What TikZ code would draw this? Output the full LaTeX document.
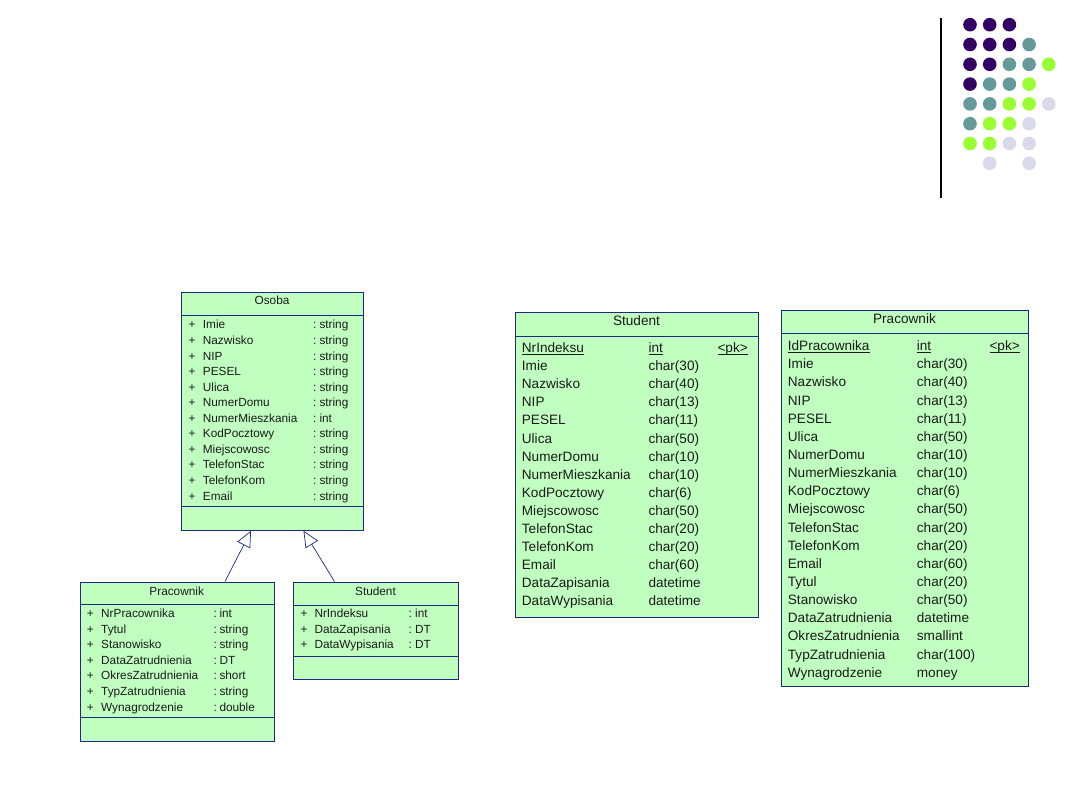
\documentclass[tikz,border=0pt]{standalone}
\usepackage{fontspec}
\setmainfont{Liberation Sans}
\usetikzlibrary{arrows.meta}
\definecolor{boxfill}{HTML}{C0FFC0}
\definecolor{boxline}{HTML}{1A2A80}
\definecolor{txt}{HTML}{1A1A1A}
\definecolor{dP}{HTML}{330066}
\definecolor{dT}{HTML}{669999}
\definecolor{dL}{HTML}{99FF33}
\definecolor{dV}{HTML}{D9D9EC}
\newcommand\myul[1]{{\setbox0\hbox{#1}\rlap{\copy0}\rule[-1.9pt]{\wd0}{0.8pt}}}
\begin{document}
\begin{tikzpicture}[x=1pt,y=-1pt,
  box/.style={draw=boxline, fill=boxfill, line width=0.9pt, rectangle, anchor=north west, inner sep=0pt},
  sep/.style={draw=boxline, line width=0.9pt},
  umltxt/.style={inner sep=0pt, anchor=base west, text=txt, font=\fontsize{11.8}{12}\selectfont},
  umlhead/.style={inner sep=0pt, anchor=base, text=txt, font=\fontsize{11.8}{12}\selectfont},
  tbltxt/.style={inner sep=0pt, anchor=base west, text=txt, font=\fontsize{13.6}{14}\selectfont},
  tblhead/.style={inner sep=0pt, anchor=base, text=txt, font=\fontsize{13.6}{14}\selectfont},
  inh/.style={draw=boxline, line width=0.7pt, -{Triangle[open, length=16pt, width=14.5pt]}},
  dot/.style={circle, inner sep=0pt, minimum size=13.6pt, draw=none}
]
\useasboundingbox (0,0) rectangle (1080,810);
\fill[white] (0,0) rectangle (1080,810);

% ---- decoration: vertical line and dots
\coordinate (vlt) at (941,18);
\coordinate (vlb) at (941,198);
\draw[black, line width=1.4pt] (vlt) -- (vlb);
\foreach \c/\r/\k [count=\i] in {0/0/dP,1/0/dP,2/0/dP,
  0/1/dP,1/1/dP,2/1/dP,3/1/dT,
  0/2/dP,1/2/dP,2/2/dT,3/2/dT,4/2/dL,
  0/3/dP,1/3/dT,2/3/dT,3/3/dL,
  0/4/dT,1/4/dT,2/4/dL,3/4/dL,4/4/dV,
  0/5/dT,1/5/dL,2/5/dL,3/5/dV,
  0/6/dL,1/6/dL,2/6/dV,3/6/dV,
  1/7/dV,3/7/dV}
  \node[dot, fill=\k] (dot\i) at ({970+\c*19.7},{24.7+\r*19.8}) {};

% ---- UML class Osoba
\node[box, minimum width=182pt, minimum height=238pt] (osoba) at (181,292) {};
\draw[sep] ([yshift=-23pt]osoba.north west) -- ([yshift=-23pt]osoba.north east);
\draw[sep] ([yshift=-214pt]osoba.north west) -- ([yshift=-214pt]osoba.north east);
\node[umlhead] (osh) at (272,305) {Osoba};
\foreach \n/\t [count=\i from 0] in {Imie/string,Nazwisko/string,NIP/string,PESEL/string,Ulica/string,NumerDomu/string,NumerMieszkania/int,KodPocztowy/string,Miejscowosc/string,TelefonStac/string,TelefonKom/string,Email/string}{
  \node[umltxt] (osp\i) at (188.3,{329+\i*15.55}) {+};
  \node[umltxt] (osn\i) at (202.7,{329+\i*15.55}) {\n};
  \node[umltxt] (osc\i) at (313,{329+\i*15.55}) {:};
  \node[umltxt] (ost\i) at (319.3,{329+\i*15.55}) {\t};
}

% ---- UML class Pracownik
\node[box, minimum width=194.5pt, minimum height=159.5pt] (uprac) at (79.5,581.5) {};
\draw[sep] ([yshift=-23pt]uprac.north west) -- ([yshift=-23pt]uprac.north east);
\draw[sep] ([yshift=-136.2pt]uprac.north west) -- ([yshift=-136.2pt]uprac.north east);
\node[umlhead] (uph) at (176.7,595) {Pracownik};
\foreach \n/\t [count=\i from 0] in {NrPracownika/int,Tytul/string,Stanowisko/string,DataZatrudnienia/DT,OkresZatrudnienia/short,TypZatrudnienia/string,Wynagrodzenie/double}{
  \node[umltxt] (upp\i) at (86.7,{617.7+\i*15.55}) {+};
  \node[umltxt] (upn\i) at (101,{617.7+\i*15.55}) {\n};
  \node[umltxt] (upc\i) at (213.3,{617.7+\i*15.55}) {:};
  \node[umltxt] (upt\i) at (219.3,{617.7+\i*15.55}) {\t};
}

% ---- UML class Student
\node[box, minimum width=164.4pt, minimum height=97.5pt] (ustud) at (293.3,581.5) {};
\draw[sep] ([yshift=-23.5pt]ustud.north west) -- ([yshift=-23.5pt]ustud.north east);
\draw[sep] ([yshift=-75.2pt]ustud.north west) -- ([yshift=-75.2pt]ustud.north east);
\node[umlhead] (ush) at (375.5,595) {Student};
\foreach \n/\t [count=\i from 0] in {NrIndeksu/int,DataZapisania/DT,DataWypisania/DT}{
  \node[umltxt] (usp\i) at (300.5,{617.7+\i*15.55}) {+};
  \node[umltxt] (usn\i) at (314.3,{617.7+\i*15.55}) {\n};
  \node[umltxt] (usc\i) at (408.3,{617.7+\i*15.55}) {:};
  \node[umltxt] (ust\i) at (415,{617.7+\i*15.55}) {\t};
}

% ---- inheritance arrows
\coordinate (a1s) at (225,581.5);
\coordinate (a1e) at (251,530.8);
\coordinate (a2s) at (334.5,581.5);
\coordinate (a2e) at (303.5,530.8);
\draw[inh] (a1s) -- (a1e);
\draw[inh] (a2s) -- (a2e);

% ---- table Student
\node[box, minimum width=243pt, minimum height=305.3pt] (tstud) at (515,311.7) {};
\draw[sep] ([yshift=-25pt]tstud.north west) -- ([yshift=-25pt]tstud.north east);
\node[tblhead] (tsh) at (636.5,326) {Student};
\node[tbltxt] (tsn0) at (521.7,352.7) {\myul{NrIndeksu}};
\node[tbltxt] (tst0) at (648.3,352.7) {\myul{int}};
\node[tbltxt] (tsk0) at (717.3,352.7) {\myul{<pk>}};
\foreach \n/\t [count=\i from 1] in {Imie/char(30),Nazwisko/char(40),NIP/char(13),PESEL/char(11),Ulica/char(50),NumerDomu/char(10),NumerMieszkania/char(10),KodPocztowy/char(6),Miejscowosc/char(50),TelefonStac/char(20),TelefonKom/char(20),Email/char(60),DataZapisania/datetime,DataWypisania/datetime}{
  \node[tbltxt] (tsn\i) at (521.7,{352.7+\i*18.07}) {\n};
  \node[tbltxt] (tst\i) at (648.3,{352.7+\i*18.07}) {\t};
}

% ---- table Pracownik
\node[box, minimum width=247pt, minimum height=376pt] (tprac) at (781,310) {};
\draw[sep] ([yshift=-23.5pt]tprac.north west) -- ([yshift=-23.5pt]tprac.north east);
\node[tblhead] (tph) at (904.5,324) {Pracownik};
\node[tbltxt] (tpn0) at (787.7,350.7) {\myul{IdPracownika}};
\node[tbltxt] (tpt0) at (916.7,350.7) {\myul{int}};
\node[tbltxt] (tpk0) at (989.3,350.7) {\myul{<pk>}};
\foreach \n/\t [count=\i from 1] in {Imie/char(30),Nazwisko/char(40),NIP/char(13),PESEL/char(11),Ulica/char(50),NumerDomu/char(10),NumerMieszkania/char(10),KodPocztowy/char(6),Miejscowosc/char(50),TelefonStac/char(20),TelefonKom/char(20),Email/char(60),Tytul/char(20),Stanowisko/char(50),DataZatrudnienia/datetime,OkresZatrudnienia/smallint,TypZatrudnienia/char(100),Wynagrodzenie/money}{
  \node[tbltxt] (tpn\i) at (787.7,{350.7+\i*18.14}) {\n};
  \node[tbltxt] (tpt\i) at (916.7,{350.7+\i*18.14}) {\t};
}
\end{tikzpicture}
\end{document}
